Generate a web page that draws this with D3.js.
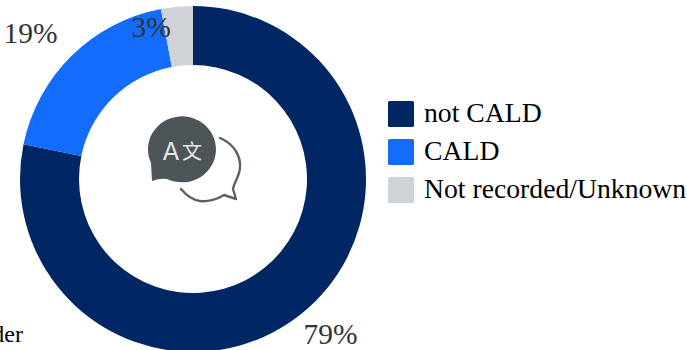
<!DOCTYPE html>
<html>
<head>
<meta charset="utf-8">
<script src="https://cdn.jsdelivr.net/npm/d3@7"></script>
<style>
html,body{margin:0;padding:0;background:#fff;overflow:hidden}
text{font-family:"Liberation Serif",serif}
</style>
</head>
<body>
<svg id="chart" width="687" height="350"></svg>
<script>
const categories = ["not CALD", "CALD", "Not recorded/Unknown"];
const values = [79, 19, 3];
const colours = ["#002664", "#146cfd", "#cdd3d6"];

const svg = d3.select("#chart");
const cx = 193, cy = 179, outer = 173, inner = 114;

const pie = d3.pie().value(d => d).sort(null);
const arc = d3.arc().innerRadius(inner).outerRadius(outer);
const arcs = pie(values);

const ring = svg.append("g").attr("transform", `translate(${cx},${cy})`);
ring.selectAll("path").data(arcs).join("path")
  .attr("d", arc)
  .attr("fill", (d, i) => colours[i]);

// Percentage labels, offset from each slice's mid-angle
const labelArc = d3.arc().innerRadius(198).outerRadius(198);
const labelNudge = [[12.5, 4.5], [-23.5, -1.5], [-23.5, 48]];
ring.selectAll("text").data(arcs).join("text")
  .attr("x", (d, i) => labelArc.centroid(d)[0] + labelNudge[i][0])
  .attr("y", (d, i) => labelArc.centroid(d)[1] + labelNudge[i][1])
  .attr("text-anchor", "middle")
  .attr("dominant-baseline", "middle")
  .attr("font-size", 29.5)
  .attr("fill", "#333")
  .text(d => d.value + "%");

// Legend entry of the neighbouring chart, cut off by the frame
svg.append("text").attr("x", 23).attr("y", 342)
  .attr("text-anchor", "end").attr("font-size", 24).attr("fill", "#000")
  .text("Gender");

// Legend
const legend = svg.append("g");
const legendY = d3.scalePoint().domain(categories).range([101, 177]);
legend.selectAll("rect").data(categories).join("rect")
  .attr("x", 388).attr("y", d => legendY(d))
  .attr("width", 26).attr("height", 26).attr("rx", 1.5)
  .attr("fill", (d, i) => colours[i]);
legend.selectAll("text").data(categories).join("text")
  .attr("x", 424).attr("y", d => legendY(d) + 21)
  .attr("font-size", 27.7).attr("fill", "#000")
  .text(d => d);

// Translate icon in the middle of the ring
const icon = svg.append("g");
icon.append("path")
  .attr("fill", "#4d5558")
  .attr("d", "M152 181 L151 163 A34 33 0 1 1 167 179 Q160 178 152 181 Z");
icon.append("path")
  .attr("fill", "none").attr("stroke", "#5c6366")
  .attr("stroke-width", 2.4).attr("stroke-linecap", "round").attr("stroke-linejoin", "round")
  .attr("d", "M220 138 C234 144 241 156 240 168 C239 177 234 183 233 189 L236 199 L224 195 C218 199 208 202 200 201 C192 200 186 195 181 189");
icon.append("text")
  .attr("x", 171).attr("y", 160).attr("text-anchor", "middle")
  .attr("font-size", 24).attr("fill", "#e4e6e7")
  .style("font-family", "'DejaVu Sans',sans-serif")
  .text("A");
icon.append("text")
  .attr("x", 192).attr("y", 159).attr("text-anchor", "middle")
  .attr("font-size", 20).attr("fill", "#e4e6e7")
  .style("font-family", "'Noto Sans CJK SC',sans-serif")
  .text("文");
</script>
</body>
</html>
